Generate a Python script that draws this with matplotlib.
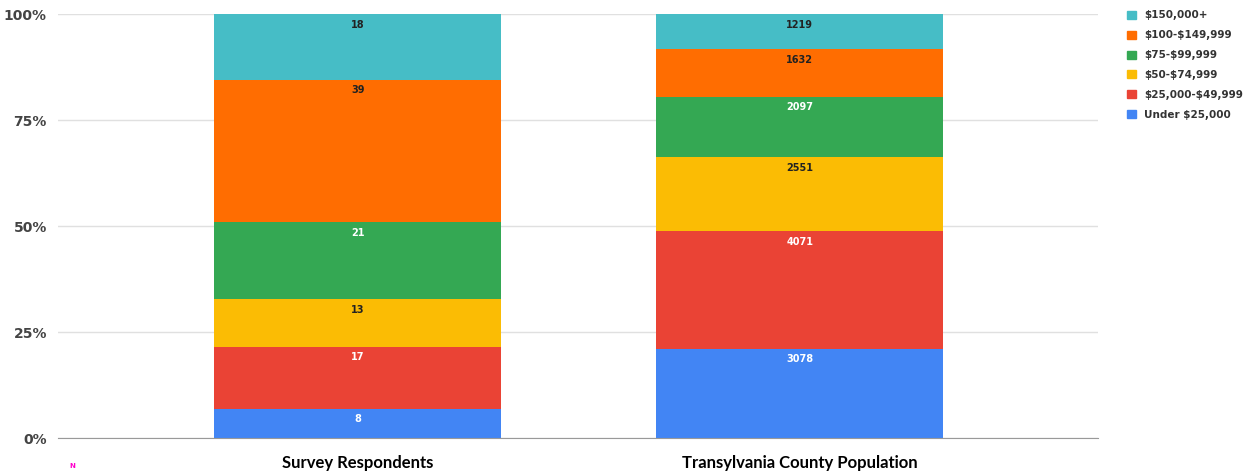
import matplotlib
matplotlib.use('Agg')
import matplotlib.pyplot as plt
import matplotlib.patches as mpatches
import numpy as np

plt.rcParams['text.parse_math'] = False

categories = ["Survey Respondents", "Transylvania County Population"]
series_names = ["Under $25,000", "$25,000-$49,999", "$50-$74,999",
                "$75-$99,999", "$100-$149,999", "$150,000+"]
under_25k = [8, 3078]
from_25k = [17, 4071]
from_50k = [13, 2551]
from_75k = [21, 2097]
from_100k = [39, 1632]
over_150k = [18, 1219]
values = [under_25k, from_25k, from_50k, from_75k, from_100k, over_150k]

colors = ["#4285F4", "#EA4335", "#FBBC04", "#34A853", "#FF6D01", "#46BDC6"]
label_colors = ["white", "white", "#222222", "white", "#222222", "#222222"]

data = np.array(values, dtype=float)
totals = data.sum(axis=0)
shares = data / totals * 100

fig = plt.figure(figsize=(12.46, 4.74), dpi=100)
ax = fig.add_axes([58/1246, 1-438/474, (1098-58)/1246, (438-14)/474])

x = np.arange(len(categories))
bottom = np.zeros(len(categories))
handles = []
for i, name in enumerate(series_names):
    bars = ax.bar(x, shares[i], 0.65, bottom=bottom, color=colors[i], zorder=2)
    for j, b in enumerate(bars):
        top = bottom[j] + shares[i][j]
        ax.annotate(str(int(values[i][j])), (x[j], top), xytext=(0, -4),
                    textcoords='offset points', ha='center', va='top',
                    fontsize=7, fontweight='bold', color=label_colors[i], zorder=3)
    bottom += shares[i]
    handles.append(mpatches.Patch(color=colors[i], label=name))

ax.set_xlim(-0.678, 1.675)
ax.set_ylim(0, 100)
ax.set_yticks([0, 25, 50, 75, 100])
ax.set_yticklabels(["0%", "25%", "50%", "75%", "100%"])
ax.set_xticks(x)
ax.set_xticklabels(categories, fontsize=12, fontweight='bold', color='black',
                   family='Lato')
ax.tick_params(axis='y', length=0, pad=8, labelsize=10, labelcolor='#444444')
ax.tick_params(axis='x', length=0, pad=12)
for lab in ax.get_yticklabels():
    lab.set_fontweight('bold')
ax.grid(axis='y', color='#e0e0e0', linewidth=1, zorder=0)
for s in ['top', 'right', 'left']:
    ax.spines[s].set_visible(False)
ax.spines['bottom'].set_color('#999999')
ax.spines['bottom'].set_zorder(4)

fig.legend(handles=handles[::-1], loc='upper left',
           bbox_to_anchor=(1118/1246, 1-1/474), frameon=False,
           prop={'size': 7.5, 'weight': 'bold'}, labelcolor='#333333',
           handlelength=0.8, handleheight=0.8, handletextpad=0.8,
           labelspacing=0.95)

fig.text(72/1246, 1-466/474, "N", color='#ff00cc', fontsize=5,
         fontweight='bold', ha='center', va='center')

fig.savefig('out.png', dpi=100)
